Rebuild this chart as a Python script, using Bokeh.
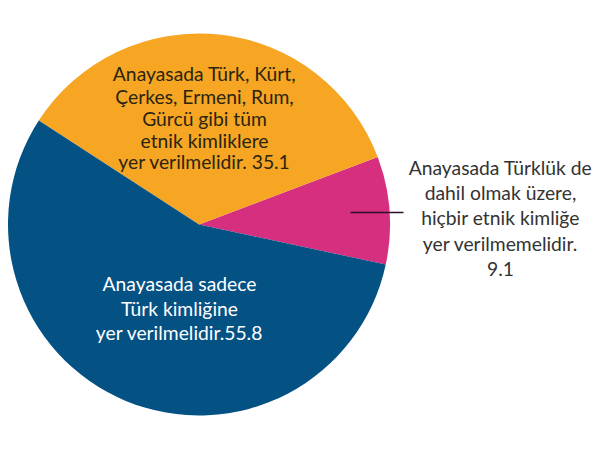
import numpy as np
from bokeh.plotting import figure
from bokeh.models import Range1d, ColumnDataSource
from bokeh.core.properties import value
from bokeh.embed import file_html
from bokeh.resources import INLINE

# Data
categories = [
    "Anayasada Türklük de dahil olmak üzere, hiçbir etnik kimliğe yer verilmemelidir.",
    "Anayasada Türk, Kürt, Çerkes, Ermeni, Rum, Gürcü gibi tüm etnik kimliklere yer verilmelidir.",
    "Anayasada sadece Türk kimliğine yer verilmelidir.",
]
values = [9.1, 35.1, 55.8]
colors = ["#D62F80", "#F6A623", "#045184"]

label_pink = ["Anayasada Türklük de", "dahil olmak üzere,", "hiçbir etnik kimliğe",
              "yer verilmemelidir.", "9.1"]
label_orange = ["Anayasada Türk, Kürt,", "Çerkes, Ermeni, Rum,", "Gürcü gibi tüm",
                "etnik kimliklere", "yer verilmelidir. 35.1"]
label_blue = ["Anayasada sadece", "Türk kimliğine", "yer verilmelidir.55.8"]

W, H = 598, 448
FONT = "Lato"

p = figure(width=W, height=H, output_backend="svg", toolbar_location=None,
           x_range=Range1d(0, W), y_range=Range1d(450 - H, 450),
           min_border=0)
p.axis.visible = False
p.grid.visible = False
p.outline_line_color = None
p.background_fill_color = "white"
p.border_fill_color = "white"

def Y(s):
    return 450 - s

cx, cy, r = 198.5, Y(224), 191
start = np.deg2rad(-12.1)
fr = np.array(values) / sum(values)
ends = start + np.cumsum(fr) * 2 * np.pi
starts = np.concatenate([[start], ends[:-1]])

src = ColumnDataSource(dict(start=starts, end=ends, color=colors, cat=categories))
p.wedge(x=cx, y=cy, radius=r, start_angle="start", end_angle="end",
        fill_color="color", line_color=None, source=src)

# leader line
p.segment(x0=[350], y0=[Y(212)], x1=[403], y1=[Y(212)], line_color="#2a1028", line_width=1.6)

def lines(texts, xc, ys, color, size):
    p.text(x=[xc] * len(texts), y=[Y(v) for v in ys], text=texts,
           text_font=value(FONT), text_font_size=size, text_color=color,
           text_align="center", text_baseline="middle")

lines(label_orange, 204, [73, 96, 118, 140, 161], "#2b2410", "19.3px")
lines(label_pink, 500, [167, 192, 217, 243, 268], "#333333", "19.3px")
lines(label_blue, 179, [283, 308, 332], "#ffffff", "19.3px")

open("out.html", "w").write(file_html(p, INLINE))
